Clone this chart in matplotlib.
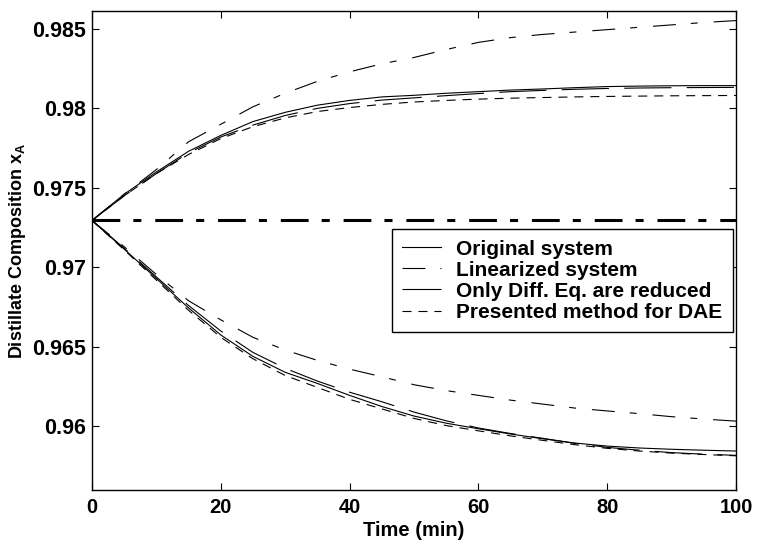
import matplotlib
matplotlib.use("Agg")
import matplotlib.pyplot as plt
import numpy as np

plt.rcParams['font.family'] = ['Liberation Sans', 'DejaVu Sans']
plt.rcParams['font.weight'] = 'bold'
plt.rcParams['mathtext.fontset'] = 'custom'
plt.rcParams['mathtext.rm'] = 'Liberation Sans:bold'
plt.rcParams['mathtext.it'] = 'Liberation Sans:bold'
plt.rcParams['mathtext.bf'] = 'Liberation Sans:bold'
plt.rcParams['lines.scale_dashes'] = False

# time axis (min)
t = [0, 5, 10, 15, 20, 25, 30, 35, 40, 45, 50, 55, 60, 65, 70, 75, 80, 85, 90, 95, 100]

# upper response (positive step)
orig_up = [0.97295, 0.97460, 0.97600, 0.97730, 0.97830, 0.97917, 0.97975, 0.98020, 0.98050, 0.98072, 0.98082,
           0.98095, 0.98105, 0.98115, 0.98122, 0.98130, 0.98137, 0.98140, 0.98142, 0.98143, 0.98143]
lin_up = [0.97295, 0.97460, 0.97615, 0.97790, 0.97900, 0.98010, 0.98095, 0.98170, 0.98230, 0.98280, 0.98320,
          0.98370, 0.98415, 0.98445, 0.98465, 0.98480, 0.98495, 0.98510, 0.98525, 0.98540, 0.98552]
diff_up = [0.97295, 0.97450, 0.97590, 0.97720, 0.97820, 0.97895, 0.97955, 0.98000, 0.98030, 0.98052, 0.98066,
           0.98080, 0.98093, 0.98105, 0.98113, 0.98120, 0.98125, 0.98128, 0.98130, 0.98131, 0.98132]
dae_up = [0.97295, 0.97450, 0.97590, 0.97710, 0.97810, 0.97885, 0.97940, 0.97980, 0.98005, 0.98025, 0.98040,
          0.98050, 0.98058, 0.98064, 0.98068, 0.98072, 0.98075, 0.98077, 0.98079, 0.98080, 0.98081]

# lower response (negative step)
orig_dn = [0.97295, 0.97115, 0.96930, 0.96745, 0.96575, 0.96440, 0.96340, 0.96270, 0.96195, 0.96125, 0.96065,
           0.96020, 0.95985, 0.95952, 0.95922, 0.95895, 0.95876, 0.95864, 0.95856, 0.95850, 0.95845]
lin_dn = [0.97295, 0.97130, 0.96955, 0.96790, 0.96670, 0.96560, 0.96480, 0.96415, 0.96360, 0.96312, 0.96262,
          0.96225, 0.96195, 0.96165, 0.96140, 0.96115, 0.96097, 0.96080, 0.96061, 0.96046, 0.96033]
diff_dn = [0.97295, 0.97120, 0.96940, 0.96760, 0.96600, 0.96465, 0.96365, 0.96285, 0.96215, 0.96155, 0.96090,
           0.96035, 0.95990, 0.95955, 0.95925, 0.95893, 0.95868, 0.95850, 0.95835, 0.95825, 0.95818]
dae_dn = [0.97295, 0.97110, 0.96920, 0.96730, 0.96560, 0.96425, 0.96320, 0.96245, 0.96170, 0.96110, 0.96050,
          0.96005, 0.95972, 0.95940, 0.95912, 0.95885, 0.95862, 0.95845, 0.95832, 0.95823, 0.95815]

# steady state line
ss_t = [0, 100]
ss_x = [0.97295, 0.97295]

labels = ['Original system', 'Linearized system', 'Only Diff. Eq. are reduced', 'Presented method for DAE']

s_solid = '-'
s_dashdot = (0, (16.5, 10.8, 5.0, 11.5))
s_long = (0, (34.0, 11.0))
s_short = (0, (6.5, 5.0))
lw = 0.8

fig = plt.figure(figsize=(7.57, 5.41), dpi=100)
ax = fig.add_axes([0.1215, 0.0943, 0.8508, 0.8847])

ax.plot(ss_t, ss_x, color='k', lw=2.2, linestyle=(0, (20, 9.4, 5.8, 10)))

l1, = ax.plot(t, orig_up, color='k', lw=lw, linestyle=s_solid)
l2, = ax.plot(t, lin_up, color='k', lw=lw, linestyle=s_dashdot)
l3, = ax.plot(t, diff_up, color='k', lw=lw, linestyle=s_long)
l4, = ax.plot(t, dae_up, color='k', lw=lw, linestyle=s_short)
ax.plot(t, orig_dn, color='k', lw=lw, linestyle=s_solid)
ax.plot(t, lin_dn, color='k', lw=lw, linestyle=s_dashdot)
ax.plot(t, diff_dn, color='k', lw=lw, linestyle=s_long)
ax.plot(t, dae_dn, color='k', lw=lw, linestyle=s_short)

ax.set_xlim(0, 100)
ax.set_ylim(0.956, 0.9861)
ax.set_xticks([0, 20, 40, 60, 80, 100])
ax.set_yticks([0.96, 0.965, 0.97, 0.975, 0.98, 0.985])
ax.set_yticklabels(['0.96', '0.965', '0.97', '0.975', '0.98', '0.985'])
ax.tick_params(direction='in', length=5, width=0.8, top=True, right=True)
ax.tick_params(axis='x', labelsize=14.5, pad=6)
ax.tick_params(axis='y', labelsize=15.5, pad=4)
for s in ax.spines.values():
    s.set_linewidth(1.0)

ax.set_xlabel('Time (min)', fontsize=14.5, fontweight='bold', labelpad=3)
ax.set_ylabel(r'Distillate Composition x$_{\mathrm{A}}$', fontsize=13, fontweight='bold', labelpad=3)

leg = ax.legend([l1, l2, l3, l4], labels, loc='upper right', bbox_to_anchor=(0.995, 0.545),
                fontsize=15, frameon=True, fancybox=False, edgecolor='k', framealpha=1,
                handlelength=1.85, handletextpad=0.75, borderaxespad=0, labelspacing=0.1,
                borderpad=0.5)
leg.get_frame().set_linewidth(1.0)

fig.savefig('out.png', dpi=100)
